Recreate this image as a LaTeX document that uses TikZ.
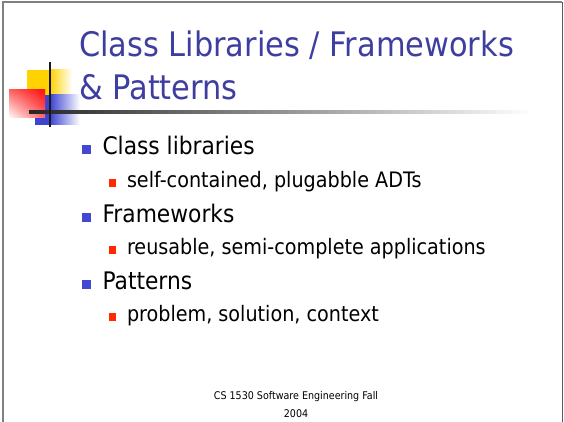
\documentclass[tikz,border=0pt]{standalone}
\usepackage{fontspec}
\usetikzlibrary{shadings}
\setmainfont{DejaVu Sans}[FakeStretch=0.9]
\newfontfamily\slidefont{DejaVu Sans}[FakeStretch=0.9]

\definecolor{titleblue}{RGB}{62,62,160}
\definecolor{bulletblue}{RGB}{66,72,210}
\definecolor{bulletred}{RGB}{255,40,0}
\definecolor{decoyellow}{RGB}{255,210,0}
\definecolor{decored}{RGB}{255,16,16}
\definecolor{decoblue}{RGB}{62,68,210}
\definecolor{framegray}{RGB}{128,128,128}

\tikzset{
  txt/.style={anchor=base west, inner sep=0pt, outer sep=0pt},
  titletext/.style={txt, text=titleblue, font=\slidefont\fontsize{33.8}{40}\selectfont},
  levelone/.style={txt, text=black, font=\slidefont\fontsize{24.2}{28}\selectfont},
  leveltwo/.style={txt, text=black, font=\slidefont\fontsize{21.3}{24}\selectfont},
  bulletone/.style={anchor=south west, fill=bulletblue, draw=none, inner sep=0pt,
                    minimum width=9pt, minimum height=9pt},
  bullettwo/.style={anchor=south west, fill=bulletred, draw=none, inner sep=0pt,
                    minimum width=7pt, minimum height=7.5pt},
  footer/.style={anchor=base, inner sep=0pt, text=black, font=\slidefont\fontsize{10.6}{12}\selectfont},
}

\begin{document}
\begin{tikzpicture}[x=1pt, y=-1pt]
  \useasboundingbox (0,0) rectangle (564,422);
  \fill[white] (0,0) rectangle (564,422);

  % slide frame
  \draw[framegray, line width=2pt] (2.5,422) -- (2.5,2.5) -- (562,2.5);
  \draw[black!65, line width=1pt] (562.5,2) -- (562.5,422);

  % corner ornament: yellow, blue and red squares
  \fill[decoyellow] (27,70) rectangle (50,95);
  \shade[left color=decoyellow, right color=white] (49.9,70) rectangle (72,95);
  \fill[decoblue] (35,95) rectangle (50,125);
  \shade[left color=decoblue, right color=white] (49.9,95) rectangle (80,125);
  \shade[upper right=decored, upper left=decored!65!white,
         lower right=decored!65!white, lower left=white] (9,90) rectangle (45,118);

  % cross lines
  \shade[left color=black!85, right color=white] (29,110.5) rectangle (533,113.5);
  \draw[black!90, line width=1.5pt] (50,62) -- (50,127);

  % title
  \node[titletext] (title1) at (79,57) {Class Libraries / Frameworks};
  \node[titletext] (title2) at (79,100) {\&~Patterns};

  % bullet list
  \node[bulletone] (b1) at (82,154) {};
  \node[levelone] (t1) at (102.5,154) {Class libraries};
  \node[bullettwo] (b11) at (109,187) {};
  \node[leveltwo] (t11) at (127,187) {self-contained, plugabble ADTs};

  \node[bulletone] (b2) at (82,222) {};
  \node[levelone] (t2) at (102.5,222) {Frameworks};
  \node[bullettwo] (b21) at (109,254) {};
  \node[leveltwo] (t21) at (127,254) {reusable, semi-complete applications};

  \node[bulletone] (b3) at (82,289) {};
  \node[levelone] (t3) at (102.5,289) {Patterns};
  \node[bullettwo] (b31) at (109,321) {};
  \node[leveltwo] (t31) at (127,321) {problem, solution, context};

  % footer
  \node[footer] (foot1) at (296,399) {CS 1530 Software Engineering Fall};
  \node[footer] (foot2) at (296,417) {2004};
\end{tikzpicture}
\end{document}
